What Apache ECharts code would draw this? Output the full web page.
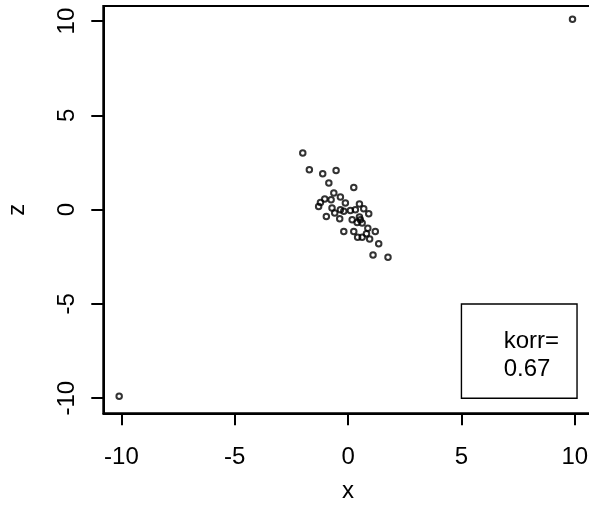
<!DOCTYPE html>
<html>
<head>
<meta charset="utf-8">
<script src="https://cdn.jsdelivr.net/npm/echarts@6/dist/echarts.min.js"></script>
<style>
  html, body { margin: 0; padding: 0; background: #fff; }
  #chart { width: 589px; height: 521px; }
</style>
</head>
<body>
<div id="chart"></div>
<script>
// Paired observations (x, z): a tight negatively sloped cloud plus two far outliers
const xValues = [
  -2.00, -1.71, -1.12, -0.53, -0.85, 0.25, -0.63, -0.34, -1.03, -0.75,
  -1.22, -1.30, -0.12, 0.50, 0.69, -0.71, -0.34, 0.10, 0.32, -0.59,
  -0.19, -0.96, -0.37, 0.91, 0.54, 0.18, 0.40, 0.62, 0.50, -0.19,
  0.25, 0.87, 1.20, 0.42, 0.62, 0.95, 0.81, 1.35, 1.10, 1.76,
  9.90, -10.10
];
const zValues = [
  3.01, 2.12, 1.91, 2.08, 1.41, 1.18, 0.88, 0.67, 0.56, 0.53,
  0.38, 0.17, 0.35, 0.30, 0.05, 0.09, 0.00, -0.04, 0.00, -0.18,
  -0.09, -0.36, -0.48, -0.22, -0.54, -0.54, -0.68, -0.71, -0.39, -1.16,
  -1.16, -0.98, -1.16, -1.46, -1.46, -1.56, -1.28, -1.81, -2.40, -2.52,
  10.10, -9.90
];

const xTicks = [-10, -5, 0, 5, 10];
const zTicks = [-10, -5, 0, 5, 10];
const axisRange = [-10.8, 10.8];

// Correlation note, placed in data coordinates
const noteLines = ['korr=', '0.67'];
const noteCorners = [[5, -5], [10.1, -10]];

const FONT = 'Liberation Sans, Arial, sans-serif';
const FONT_SIZE = 24;
const points = xValues.map((x, i) => [x, zValues[i]]);

const chart = echarts.init(document.getElementById('chart'), null, { renderer: 'canvas' });

const axisCommon = {
  type: 'value',
  min: axisRange[0],
  max: axisRange[1],
  nameLocation: 'middle',
  nameTextStyle: { fontFamily: FONT, fontSize: FONT_SIZE, color: '#000' },
  axisLine: { show: true, onZero: false, lineStyle: { color: '#000', width: 2 } },
  axisTick: { show: true, inside: false, length: 12, lineStyle: { color: '#000', width: 2 } },
  splitLine: { show: false }
};

chart.setOption({
  animation: false,
  backgroundColor: '#fff',
  grid: {
    left: 103.3, top: 6, width: 489.6, height: 407.3,
    show: true, borderColor: '#000', borderWidth: 2,
    containLabel: false, outerBoundsMode: 'none'
  },
  xAxis: Object.assign({}, axisCommon, {
    position: 'bottom',
    name: 'x',
    nameGap: 66,
    axisTick: Object.assign({}, axisCommon.axisTick, { customValues: xTicks }),
    axisLabel: {
      customValues: xTicks, margin: 32,
      fontFamily: FONT, fontSize: FONT_SIZE, color: '#000'
    }
  }),
  yAxis: Object.assign({}, axisCommon, {
    position: 'left',
    name: 'z',
    nameGap: 74,
    axisTick: Object.assign({}, axisCommon.axisTick, { customValues: zTicks }),
    axisLabel: {
      customValues: zTicks, margin: 24, rotate: 90,
      fontFamily: FONT, fontSize: FONT_SIZE, color: '#000'
    }
  }),
  series: [{
    type: 'scatter',
    data: points,
    symbol: 'circle',
    symbolSize: 5.5,
    itemStyle: { color: 'rgba(0,0,0,0)', borderColor: '#000', borderWidth: 2 },
    markArea: {
      silent: true,
      itemStyle: { color: '#fff', borderColor: '#000', borderWidth: 1.4 },
      label: {
        show: true,
        position: [43, 24],
        align: 'left',
        verticalAlign: 'top',
        formatter: noteLines.join('\n'),
        fontFamily: FONT, fontSize: FONT_SIZE, lineHeight: 28, color: '#000'
      },
      data: [[
        { coord: noteCorners[0] },
        { coord: noteCorners[1] }
      ]]
    }
  }]
});
</script>
</body>
</html>
